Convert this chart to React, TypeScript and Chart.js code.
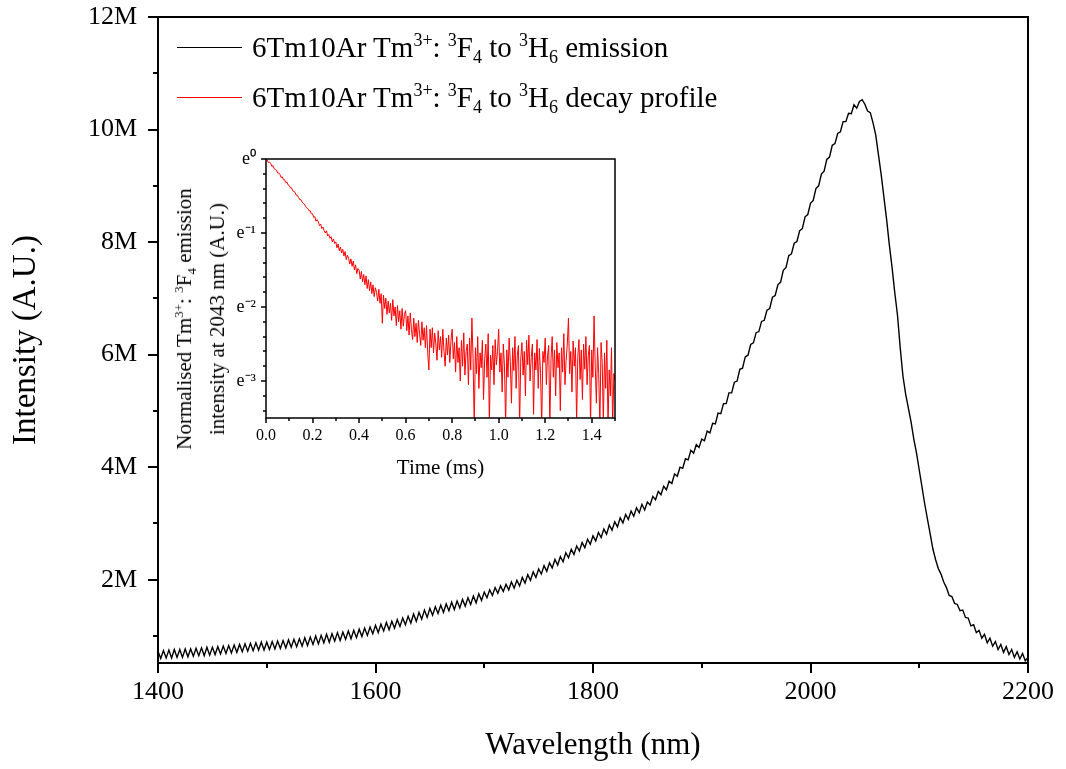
import React, { useEffect, useRef } from "react";
import { Chart, registerables } from "chart.js";

Chart.register(...registerables);

const FONT = "'Liberation Serif', 'Times New Roman', Times, serif";

// ---------- Main emission spectrum (intensity in millions, A.U.) ----------
const wavelengthStart = 1400;
const wavelengthStep = 2.5;
const emissionM: number[] = [
  0.73, 0.60, 0.74, 0.61, 0.75, 0.61, 0.76, 0.62, 0.76, 0.62, 0.77, 0.63, 0.77, 0.64, 0.78, 0.65, 0.79, 0.65, 0.80, 0.66,
  0.80, 0.67, 0.81, 0.68, 0.82, 0.69, 0.83, 0.70, 0.84, 0.71, 0.85, 0.72, 0.86, 0.73, 0.87, 0.74, 0.88, 0.75, 0.89, 0.75,
  0.89, 0.76, 0.90, 0.77, 0.91, 0.78, 0.92, 0.79, 0.93, 0.80, 0.94, 0.81, 0.95, 0.82, 0.97, 0.83, 0.98, 0.85, 1.00, 0.86,
  1.01, 0.88, 1.03, 0.89, 1.04, 0.91, 1.06, 0.92, 1.07, 0.94, 1.09, 0.95, 1.10, 0.97, 1.12, 0.99, 1.14, 1.01, 1.16, 1.04,
  1.19, 1.06, 1.21, 1.09, 1.24, 1.11, 1.26, 1.14, 1.29, 1.17, 1.32, 1.20, 1.35, 1.23, 1.39, 1.26, 1.42, 1.30, 1.46, 1.33,
  1.49, 1.37, 1.52, 1.40, 1.55, 1.42, 1.57, 1.45, 1.60, 1.47, 1.62, 1.50, 1.65, 1.53, 1.68, 1.56, 1.71, 1.59, 1.75, 1.63,
  1.78, 1.68, 1.82, 1.72, 1.86, 1.76, 1.89, 1.79, 1.92, 1.82, 1.96, 1.85, 1.99, 1.89, 2.04, 1.94, 2.09, 1.99, 2.14, 2.04,
  2.19, 2.10, 2.25, 2.15, 2.30, 2.21, 2.36, 2.26, 2.41, 2.32, 2.48, 2.39, 2.54, 2.45, 2.60, 2.51, 2.66, 2.57, 2.72, 2.63,
  2.78, 2.69, 2.84, 2.75, 2.90, 2.81, 2.97, 2.88, 3.03, 2.94, 3.10, 3.01, 3.16, 3.07, 3.22, 3.13, 3.28, 3.19, 3.34, 3.24,
  3.38, 3.33, 3.48, 3.42, 3.57, 3.51, 3.66, 3.60, 3.75, 3.71, 3.88, 3.84, 4.00, 3.98, 4.15, 4.13, 4.30, 4.25, 4.40, 4.35,
  4.50, 4.47, 4.64, 4.61, 4.78, 4.77, 4.96, 4.95, 5.13, 5.13, 5.32, 5.32, 5.51, 5.53, 5.74, 5.76, 5.96, 5.99, 6.18, 6.21,
  6.39, 6.41, 6.59, 6.61, 6.79, 6.82, 7.02, 7.05, 7.24, 7.29, 7.50, 7.55, 7.76, 7.79, 7.98, 8.01, 8.20, 8.24, 8.45, 8.49,
  8.69, 8.74, 8.95, 9.00, 9.21, 9.26, 9.47, 9.51, 9.72, 9.75, 9.93, 9.96, 10.14, 10.14, 10.29, 10.28, 10.44, 10.38, 10.50, 10.53,
  10.45, 10.33, 10.30, 10.12, 9.90, 9.55, 9.20, 8.80, 8.40, 7.95, 7.55, 7.10, 6.70, 6.12, 5.62, 5.30, 5.05, 4.80, 4.50, 4.25,
  3.95, 3.65, 3.35, 3.08, 2.82, 2.55, 2.36, 2.20, 2.10, 1.96, 1.86, 1.72, 1.70, 1.58, 1.56, 1.45, 1.46, 1.33, 1.32, 1.18,
  1.20, 1.06, 1.10, 0.96, 1.03, 0.88, 0.96, 0.82, 0.90, 0.76, 0.85, 0.71, 0.81, 0.67, 0.76, 0.62, 0.72, 0.59, 0.69, 0.56,
  0.62,
];

const xMin = 1400;
const xMax = 2200;
const yMinM = 0.52;
const yMaxM = 12;
const xTickValues = [1400, 1600, 1800, 2000, 2200];
const xMinorTicks = [1500, 1700, 1900, 2100];
const yTickValues = [2, 4, 6, 8, 10, 12];
const yMinorTicks = [1, 3, 5, 7, 9, 11];

// ---------- Inset decay profile (natural log of normalised intensity) ----------
const decayStart = 0;
const decayStep = 0.005;
const decayLn: number[] = [
  0.00, -0.01, -0.05, -0.04, -0.06, -0.10, -0.09, -0.13, -0.14, -0.15, -0.19, -0.19, -0.21, -0.25, -0.24, -0.28, -0.28, -0.32, -0.31, -0.35,
  -0.36, -0.39, -0.39, -0.43, -0.44, -0.45, -0.49, -0.49, -0.52, -0.55, -0.55, -0.58, -0.60, -0.61, -0.64, -0.66, -0.67, -0.70, -0.70, -0.74,
  -0.74, -0.79, -0.78, -0.84, -0.82, -0.85, -0.90, -0.88, -0.94, -0.92, -0.97, -1.00, -0.97, -1.04, -1.02, -1.07, -1.05, -1.12, -1.08, -1.14,
  -1.12, -1.20, -1.15, -1.24, -1.19, -1.27, -1.22, -1.31, -1.25, -1.36, -1.30, -1.34, -1.42, -1.35, -1.45, -1.38, -1.50, -1.43, -1.55, -1.48,
  -1.50, -1.62, -1.52, -1.66, -1.56, -1.70, -1.58, -1.75, -1.63, -1.78, -1.66, -1.82, -1.70, -1.86, -1.74, -1.80, -1.92, -1.76, -1.95, -1.82,
  -2.22, -1.84, -2.02, -1.88, -2.10, -1.92, -2.08, -1.95, -2.18, -1.90, -2.12, -2.00, -2.25, -1.98, -2.20, -2.05, -2.30, -2.02, -2.26, -2.10,
  -2.05, -2.32, -2.12, -2.38, -2.08, -2.30, -2.44, -2.15, -2.40, -2.22, -2.48, -2.18, -2.36, -2.52, -2.20, -2.45, -2.28, -2.55, -2.25, -2.62,
  -2.85, -2.30, -2.55, -2.28, -2.62, -2.35, -2.50, -2.72, -2.32, -2.58, -2.40, -2.68, -2.30, -2.60, -2.80, -2.42, -2.65, -2.38, -2.75, -2.45,
  -2.30, -2.70, -2.48, -2.88, -2.40, -2.75, -2.55, -3.00, -2.45, -2.80, -2.35, -2.92, -2.60, -2.50, -3.05, -2.42, -2.85, -2.15, -2.70, -3.60,
  -2.55, -2.90, -2.40, -3.10, -2.62, -2.82, -2.45, -3.25, -2.70, -2.50, -2.95, -2.36, -3.60, -2.65, -2.85, -2.52, -3.05, -2.44, -2.78, -2.60,
  -2.30, -2.88, -2.62, -3.15, -2.50, -2.80, -3.60, -2.58, -2.95, -2.42, -2.74, -3.30, -2.55, -2.86, -2.40, -3.10, -2.66, -2.52, -3.62, -2.70,
  -2.48, -2.92, -2.60, -3.20, -2.45, -2.78, -2.38, -3.00, -2.68, -2.50, -3.45, -2.62, -2.85, -2.44, -3.10, -2.56, -2.90, -3.62, -2.60, -2.75,
  -2.42, -3.05, -2.66, -2.52, -3.60, -2.70, -2.40, -2.95, -2.58, -3.20, -2.48, -2.82, -2.62, -3.40, -2.55, -2.88, -2.36, -3.05, -2.72, -2.50,
  -2.15, -2.90, -2.60, -3.15, -2.46, -2.80, -2.55, -3.55, -2.68, -2.44, -2.98, -2.58, -3.25, -2.50, -2.84, -2.40, -3.05, -2.66, -2.52, -3.60,
  -2.58, -2.95, -2.12, -2.80, -3.30, -2.55, -2.90, -3.62, -2.48, -2.75, -3.58, -2.62, -3.10, -2.45, -3.62, -2.85, -3.20, -2.55, -3.62, -2.90,
  -3.00,
];

const insetXMin = 0;
const insetXMax = 1.5;
const insetYMin = -3.5;
const insetYMax = 0;
const insetXTicks = [0, 0.2, 0.4, 0.6, 0.8, 1.0, 1.2, 1.4];
const insetXMinor = [0.1, 0.3, 0.5, 0.7, 0.9, 1.1, 1.3, 1.5];
const insetYTicks = [0, -1, -2, -3];
const insetYTickLabels = ["e\u2070", "e\u207B\u00B9", "e\u207B\u00B2", "e\u207B\u00B3"];
const insetYMinor = [-0.2, -0.4, -0.6, -0.8, -1.2, -1.4, -1.6, -1.8, -2.2, -2.4, -2.6, -2.8, -3.2, -3.4];

type FrameCfg = {
  lw: number;
  major: number;
  minor: number;
  xMajor: number[];
  xMinor: number[];
  yMajor: number[];
  yMinor: number[];
};

function makeFramePlugin(cfg: FrameCfg) {
  return {
    id: "frameTicks",
    afterDraw(chart: any) {
      const { ctx, chartArea: a, scales } = chart;
      const xs = scales.x;
      const ys = scales.y;
      ctx.save();
      ctx.strokeStyle = "#000";
      ctx.lineWidth = cfg.lw;
      ctx.strokeRect(a.left, a.top, a.right - a.left, a.bottom - a.top);
      ctx.beginPath();
      const xt = (vals: number[], len: number) => {
        for (const v of vals) {
          const p = Math.round(xs.getPixelForValue(v));
          ctx.moveTo(p, a.bottom);
          ctx.lineTo(p, a.bottom + len);
        }
      };
      const yt = (vals: number[], len: number) => {
        for (const v of vals) {
          const p = Math.round(ys.getPixelForValue(v));
          ctx.moveTo(a.left, p);
          ctx.lineTo(a.left - len, p);
        }
      };
      xt(cfg.xMajor, cfg.major);
      xt(cfg.xMinor, cfg.minor);
      yt(cfg.yMajor, cfg.major);
      yt(cfg.yMinor, cfg.minor);
      ctx.stroke();
      ctx.restore();
    },
  };
}

const sup = (t: string, size: number, top: number) => (
  <span style={{ fontSize: size, position: "relative", top: -top, lineHeight: 0 }}>{t}</span>
);
const sub = (t: string, size: number, top: number) => (
  <span style={{ fontSize: size, position: "relative", top: top, lineHeight: 0 }}>{t}</span>
);

const legendLabels = ["emission", "decay profile"];
const legendColors = ["#000000", "#ff0000"];

const zeroPadX = (s: any) => {
  s.paddingLeft = 0;
  s.paddingRight = 0;
};
const zeroPadY = (s: any) => {
  s.paddingTop = 0;
  s.paddingBottom = 0;
};

export default function App() {
  const mainRef = useRef<HTMLCanvasElement | null>(null);
  const insetRef = useRef<HTMLCanvasElement | null>(null);

  useEffect(() => {
    const mainCanvas = mainRef.current!;
    const insetCanvas = insetRef.current!;

    const mainChart = new Chart(mainCanvas, {
      type: "line",
      data: {
        datasets: [
          {
            data: emissionM.map((v, i) => ({ x: wavelengthStart + i * wavelengthStep, y: v })),
            borderColor: "#000",
            borderWidth: 1.4,
            pointRadius: 0,
            tension: 0,
            fill: false,
          },
        ],
      },
      options: {
        responsive: false,
        animation: false,
        devicePixelRatio: 1,
        layout: { padding: { top: 17, right: 38, left: 0, bottom: 0 } },
        plugins: { legend: { display: false }, tooltip: { enabled: false } },
        scales: {
          x: {
            type: "linear",
            min: xMin,
            max: xMax,
            grid: { display: false, drawTicks: false },
            border: { display: false },
            afterBuildTicks: (s: any) => {
              s.ticks = xTickValues.map((v) => ({ value: v }));
            },
            afterFit: (s: any) => {
              s.height = 106;
              zeroPadX(s);
            },
            ticks: {
              color: "#000",
              font: { family: FONT, size: 26 },
              padding: 14,
              maxRotation: 0,
              autoSkip: false,
              callback: (v: any) => String(v),
            },
            title: {
              display: true,
              text: "Wavelength (nm)",
              color: "#000",
              font: { family: FONT, size: 31 },
              padding: { top: 4, bottom: 5 },
            },
          },
          y: {
            type: "linear",
            min: yMinM,
            max: yMaxM,
            grid: { display: false, drawTicks: false },
            border: { display: false },
            afterBuildTicks: (s: any) => {
              s.ticks = yTickValues.map((v) => ({ value: v }));
            },
            afterFit: (s: any) => {
              s.width = 158;
              zeroPadY(s);
            },
            ticks: {
              color: "#000",
              font: { family: FONT, size: 26 },
              padding: 21,
              autoSkip: false,
              callback: (v: any) => v + "M",
            },
            title: {
              display: true,
              text: "Intensity (A.U.)",
              color: "#000",
              font: { family: FONT, size: 33 },
              padding: { top: 7, bottom: 4 },
            },
          },
        },
      },
      plugins: [
        makeFramePlugin({
          lw: 2,
          major: 10,
          minor: 5,
          xMajor: xTickValues,
          xMinor: xMinorTicks,
          yMajor: yTickValues,
          yMinor: yMinorTicks,
        }),
      ],
    } as any);

    const insetChart = new Chart(insetCanvas, {
      type: "line",
      data: {
        datasets: [
          {
            data: decayLn.map((v, i) => ({ x: decayStart + i * decayStep, y: v })),
            borderColor: "#ff0000",
            borderWidth: 1,
            pointRadius: 0,
            tension: 0,
            fill: false,
            clip: 0,
          },
        ],
      },
      options: {
        responsive: false,
        animation: false,
        devicePixelRatio: 1,
        layout: { padding: { top: 14, right: 10, left: 0, bottom: 0 } },
        plugins: { legend: { display: false }, tooltip: { enabled: false } },
        scales: {
          x: {
            type: "linear",
            min: insetXMin,
            max: insetXMax,
            grid: { display: false, drawTicks: false },
            border: { display: false },
            afterBuildTicks: (s: any) => {
              s.ticks = insetXTicks.map((v) => ({ value: v }));
            },
            afterFit: (s: any) => {
              s.height = 67;
              zeroPadX(s);
            },
            ticks: {
              color: "#000",
              font: { family: FONT, size: 16 },
              padding: 8,
              maxRotation: 0,
              autoSkip: false,
              callback: (v: any) => Number(v).toFixed(1),
            },
            title: {
              display: true,
              text: "Time (ms)",
              color: "#000",
              font: { family: FONT, size: 21 },
              padding: { top: 2, bottom: 4 },
            },
          },
          y: {
            type: "linear",
            min: insetYMin,
            max: insetYMax,
            grid: { display: false, drawTicks: false },
            border: { display: false },
            afterBuildTicks: (s: any) => {
              s.ticks = insetYTicks.map((v) => ({ value: v }));
            },
            afterFit: (s: any) => {
              s.width = 96;
              zeroPadY(s);
            },
            ticks: {
              color: "#000",
              font: { family: FONT, size: 18 },
              padding: 10,
              autoSkip: false,
              callback: (v: any) => {
                const idx = insetYTicks.indexOf(Math.round(Number(v)));
                return idx >= 0 ? insetYTickLabels[idx] : "";
              },
            },
          },
        },
      },
      plugins: [
        makeFramePlugin({
          lw: 1.5,
          major: 5,
          minor: 3,
          xMajor: insetXTicks,
          xMinor: insetXMinor,
          yMajor: insetYTicks,
          yMinor: insetYMinor,
        }),
      ],
    } as any);

    return () => {
      mainChart.destroy();
      insetChart.destroy();
    };
  }, []);

  const legendRowTops = [47, 97];

  return (
    <div
      style={{
        position: "absolute",
        left: 0,
        top: 0,
        width: 1066,
        height: 769,
        background: "#fff",
        overflow: "hidden",
        fontFamily: FONT,
        color: "#000",
      }}
    >
      <canvas
        ref={mainRef}
        width={1066}
        height={769}
        style={{ position: "absolute", left: 0, top: 0, width: 1066, height: 769 }}
      />
      <canvas
        ref={insetRef}
        width={455}
        height={340}
        style={{ position: "absolute", left: 170, top: 145, width: 455, height: 340 }}
      />
      {legendLabels.map((lab, i) => (
        <div
          key={lab}
          style={{
            position: "absolute",
            left: 177,
            top: legendRowTops[i] - 17,
            height: 34,
            display: "flex",
            alignItems: "center",
            whiteSpace: "nowrap",
            fontSize: 29,
            lineHeight: "34px",
          }}
        >
          <div style={{ width: 65, height: 0, borderTop: `1px solid ${legendColors[i]}`, marginRight: 10 }} />
          <span>
            6Tm10Ar Tm{sup("3+", 18, 11)}: {sup("3", 18, 11)}F{sub("4", 18, 6)} to {sup("3", 18, 11)}H
            {sub("6", 18, 6)} {lab}
          </span>
        </div>
      ))}
      <div
        style={{
          position: "absolute",
          left: 201,
          top: 319,
          transform: "translate(-50%, -50%) rotate(-90deg)",
          whiteSpace: "nowrap",
          textAlign: "center",
          fontSize: 21,
          lineHeight: "33px",
        }}
      >
        <div>
          Normalised Tm{sup("3+", 13, 8)}: {sup("3", 13, 8)}F{sub("4", 13, 5)} emission
        </div>
        <div>intensity at 2043 nm (A.U.)</div>
      </div>
    </div>
  );
}
